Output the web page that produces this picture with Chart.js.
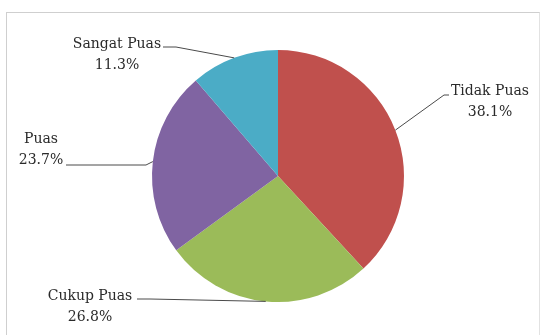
<!DOCTYPE html>
<html>
<head>
<meta charset="utf-8">
<title>Tingkat Kepuasan</title>
<script src="https://cdn.jsdelivr.net/npm/chart.js@4"></script>
<style>
  html, body { margin: 0; padding: 0; background: #fff; }
  #wrap { position: relative; width: 545px; height: 335px; overflow: hidden; }
  #frame {
    position: absolute; left: 6px; top: 12px; width: 534px; height: 340px;
    border: 1px solid #cfcfcf; border-right-color: #e2e2e2; box-sizing: border-box;
  }
  canvas { position: absolute; left: 0; top: 0; }
</style>
</head>
<body>
<div id="wrap">
  <div id="frame"></div>
  <canvas id="myChart1" width="545" height="335"></canvas>
</div>
<script>
const categories = ['Tidak Puas', 'Cukup Puas', 'Puas', 'Sangat Puas'];
const percentages = [38.1, 26.8, 23.7, 11.3];

const sliceColors = ['#c0504d', '#9bbb59', '#8064a2', '#4bacc6'];

const labelFont = "14px 'DejaVu Serif'";

// where each label sits and where its leader line bends
// x / y: centre and first baseline of the text, elbow: bend point, end: where the line meets the text
const labelLayout = [
    { x: 490, y: 95,  elbow: [444, 95],  end: [449, 95] },
    { x: 90,  y: 300, elbow: [150, 299], end: [137, 299] },
    { x: 41,  y: 143, elbow: [146, 165], end: [66, 165] },
    { x: 117, y: 48,  elbow: [176, 47],  end: [163, 47] }
];

const leaderLabels = {
    id: 'leaderLabels',
    afterDatasetsDraw(chart) {
        const ctx = chart.ctx;
        const meta = chart.getDatasetMeta(0);
        ctx.save();
        meta.data.forEach((arc, i) => {
            const p = arc.getProps(['x', 'y', 'startAngle', 'endAngle', 'outerRadius'], true);
            const mid = (p.startAngle + p.endAngle) / 2;
            const ax = p.x + Math.cos(mid) * p.outerRadius;
            const ay = p.y + Math.sin(mid) * p.outerRadius;
            const lay = labelLayout[i];

            ctx.strokeStyle = '#4a4a4a';
            ctx.lineWidth = 1;
            ctx.beginPath();
            ctx.moveTo(ax, ay);
            ctx.lineTo(lay.elbow[0], lay.elbow[1]);
            ctx.lineTo(lay.end[0], lay.end[1]);
            ctx.stroke();

            ctx.fillStyle = '#2a2a2a';
            ctx.font = labelFont;
            ctx.textAlign = 'center';
            ctx.textBaseline = 'alphabetic';
            ctx.fillText(categories[i], lay.x, lay.y);
            ctx.fillText(percentages[i].toFixed(1) + '%', lay.x, lay.y + 21);
        });
        ctx.restore();
    }
};

const ctx = document.getElementById('myChart1').getContext('2d');
const myChart = new Chart(ctx, {
    type: 'pie',
    data: {
        labels: categories,
        datasets: [{
            data: percentages,
            backgroundColor: sliceColors,
            borderWidth: 0
        }]
    },
    options: {
        responsive: false,
        animation: false,
        layout: {
            padding: { top: 50, bottom: 33, left: 152, right: 141 }
        },
        plugins: {
            legend: { display: false },
            tooltip: { enabled: false }
        }
    },
    plugins: [leaderLabels]
});
</script>
</body>
</html>
